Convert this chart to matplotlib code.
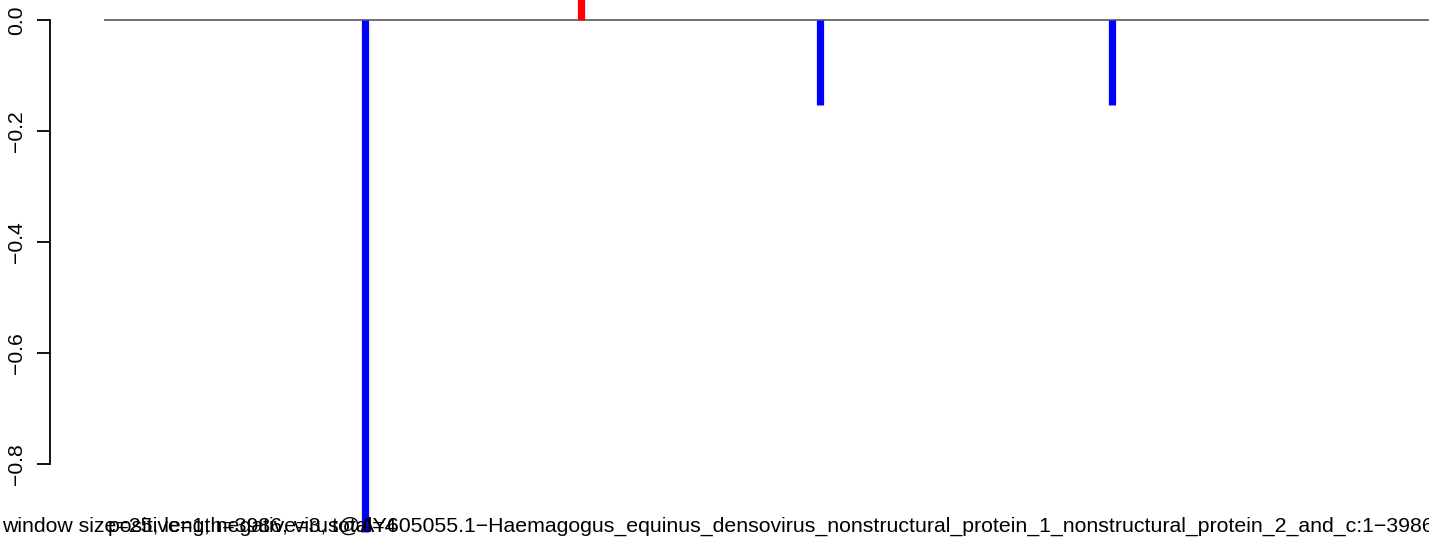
import matplotlib
matplotlib.use("Agg")
import matplotlib.pyplot as plt

# genome positions (nt) and signed scores of the hits
positions = [771, 1408, 2113, 2974]
scores = [-0.922, 0.10, -0.153, -0.153]
genome_length = 3986

y_ticks = [0.0, -0.2, -0.4, -0.6, -0.8]
y_labels = ["0.0", "\u22120.2", "\u22120.4", "\u22120.6", "\u22120.8"]

xlab = ("window size=25, length=3986, virus@AY605055.1\u2212Haemagogus_equinus_densovirus_"
        "nonstructural_protein_1_nonstructural_protein_2_and_c:1\u22123986")
overlay = "positive=1, negative=3, total=4"

plt.rcParams["font.family"] = ["Liberation Sans", "DejaVu Sans"]

W, H = 1429, 539
fig = plt.figure(figsize=(W / 100, H / 100), dpi=100)
ax = fig.add_axes([50 / W, 0, 1459 / W, 1])

pad = 0.04 * (genome_length - 1)
ax.set_xlim(1 - pad, genome_length + pad)
ax.set_ylim(-(H - 20) / 555, 20 / 555)

ax.hlines(0, 1, genome_length, color="#666666", lw=1.3)
for p, s in zip(positions, scores):
    ax.vlines(p, 0, s, color="#0000FF" if s < 0 else "#FF0000",
              lw=5.2, capstyle="butt")

for side in ["top", "right", "bottom"]:
    ax.spines[side].set_visible(False)
ax.spines["left"].set_bounds(-0.8, 0)
ax.spines["left"].set_linewidth(1.3)
ax.set_xticks([])
ax.set_yticks(y_ticks)
ax.set_yticklabels(y_labels, rotation=90, va="center", fontsize=15.2)
ax.tick_params(axis="y", length=9.5, width=1.3, pad=8)

fig.text(1434 / W, 7 / H, xlab, ha="right", va="baseline", fontsize=15.3)
fig.text(108 / W, 7 / H, overlay, ha="left", va="baseline", fontsize=15.3)

fig.savefig("out.png", dpi=100)
